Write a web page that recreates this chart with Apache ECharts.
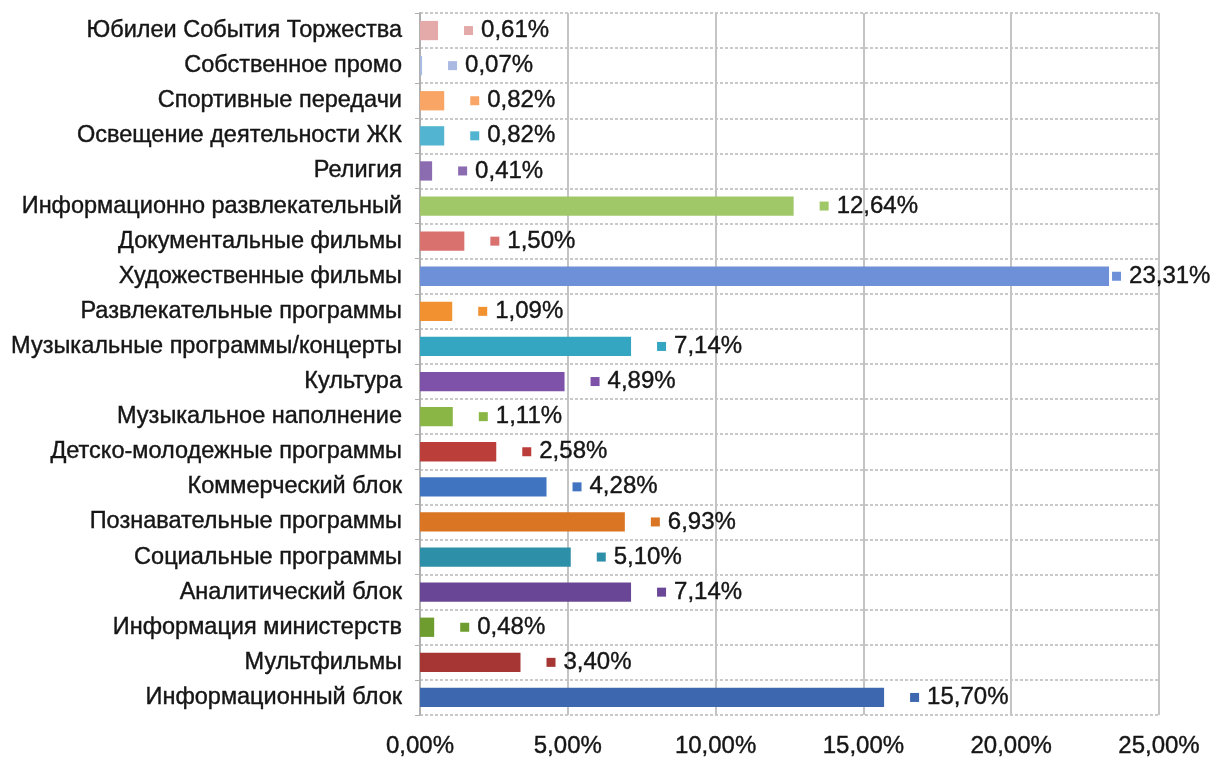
<!DOCTYPE html>
<html>
<head>
<meta charset="utf-8">
<script src="https://cdn.jsdelivr.net/npm/echarts@6/dist/echarts.min.js"></script>
<style>
  html, body { margin: 0; padding: 0; background: #fff; }
  #chart { width: 1216px; height: 766px; }
</style>
</head>
<body>
<div id="chart"></div>
<script>
// categories, top to bottom as in the picture
const categories = [
  "Юбилеи События Торжества",
  "Собственное промо",
  "Спортивные передачи",
  "Освещение деятельности ЖК",
  "Религия",
  "Информационно развлекательный",
  "Документальные фильмы",
  "Художественные фильмы",
  "Развлекательные программы",
  "Музыкальные программы/концерты",
  "Культура",
  "Музыкальное наполнение",
  "Детско-молодежные программы",
  "Коммерческий блок",
  "Познавательные программы",
  "Социальные программы",
  "Аналитический блок",
  "Информация министерств",
  "Мультфильмы",
  "Информационный блок"
];
const shares = [0.61, 0.07, 0.82, 0.82, 0.41, 12.64, 1.50, 23.31, 1.09, 7.14,
                4.89, 1.11, 2.58, 4.28, 6.93, 5.10, 7.14, 0.48, 3.40, 15.70];
const barColors = [
  "#e3aaa9", "#a9b9e2", "#f9a566", "#52b4d0", "#8c6cb0",
  "#a0c868", "#d9716e", "#6d90d8", "#f2912f", "#34a6c2",
  "#7d52a8", "#8ab645", "#bb3e3a", "#4074c0", "#da7524",
  "#2e8fa8", "#6a4796", "#6f9c2e", "#a53634", "#3d68b0"
];
const xTicks = [0, 5, 10, 15, 20, 25];

const fmt = v => v.toFixed(2).replace(".", ",") + "%";
const font = "Liberation Sans";
const ink = "#151515";
const xMax = xTicks[xTicks.length - 1];

const data = shares.map((v, i) => ({
  value: v,
  itemStyle: { color: barColors[i] },
  label: {
    // the longest bar's label is pulled in so it stays inside the picture
    distance: v > xMax - 5 ? 3 : 26,
    rich: {
      s: { width: 9, height: 9, backgroundColor: barColors[i] },
      v: {
        fontSize: 24, color: ink, padding: [0, 0, 0, 8], fontFamily: font,
        textBorderColor: ink, textBorderWidth: 0.4
      }
    }
  }
}));

const chart = echarts.init(document.getElementById("chart"));
chart.setOption({
  backgroundColor: "#fff",
  animation: false,
  grid: { left: 420, right: 57, top: 13, bottom: 51, containLabel: false },
  xAxis: {
    type: "value",
    position: "bottom",
    min: xTicks[0],
    max: xMax,
    interval: 5,
    axisLine: { show: false },
    axisTick: { show: false },
    splitLine: { show: true, lineStyle: { color: "#c4c4c4", width: 2 } },
    axisLabel: {
      margin: 19,
      fontSize: 24,
      color: ink,
      fontFamily: font,
      textBorderColor: ink,
      textBorderWidth: 0.4,
      formatter: v => fmt(v)
    }
  },
  yAxis: {
    type: "category",
    inverse: true,
    data: categories,
    axisLine: { show: true, lineStyle: { color: "#b0b0b0", width: 2 } },
    axisTick: { show: true, length: 5, lineStyle: { color: "#b0b0b0" } },
    splitLine: { show: true, lineStyle: { color: "#b8b8b8", type: [3, 2], width: 1.5 } },
    axisLabel: {
      margin: 18,
      fontSize: 23.5,
      color: ink,
      fontFamily: font,
      textBorderColor: ink,
      textBorderWidth: 0.4
    }
  },
  series: [{
    type: "bar",
    data: data,
    barCategoryGap: "45%",
    label: {
      show: true,
      position: "right",
      formatter: p => "{s|}{v|" + fmt(p.value) + "}"
    }
  }]
});
</script>
</body>
</html>
